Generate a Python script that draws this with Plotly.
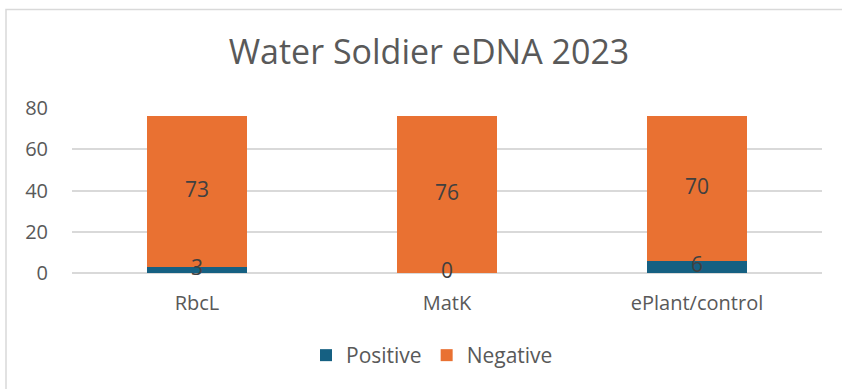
import plotly.graph_objects as go

categories = ["RbcL", "MatK", "ePlant/control"]
positive = [3, 0, 6]
negative = [73, 76, 70]

POS_COLOR = "#156082"
NEG_COLOR = "#E97132"
TEXT = "#595959"
FONT = "Open Sans"

fig = go.Figure()
fig.add_trace(go.Bar(name="Positive", x=categories, y=positive, marker_color=POS_COLOR,
                     marker_line_width=0))
fig.add_trace(go.Bar(name="Negative", x=categories, y=negative, marker_color=NEG_COLOR,
                     marker_line_width=0))

# data labels at centre of each segment
pos_mid = [p / 2 for p in positive]
neg_mid = [p + n / 2 for p, n in zip(positive, negative)]
fig.add_trace(go.Scatter(x=categories + categories, y=pos_mid + neg_mid, mode="text",
                         text=[str(v) for v in positive + negative],
                         textfont=dict(size=21, color="#404040", family=FONT),
                         showlegend=False, hoverinfo="skip", cliponaxis=False))

fig.update_layout(
    width=842, height=389,
    barmode="stack", bargap=0.6,
    margin=dict(l=72, r=20, t=108, b=116),
    paper_bgcolor="white", plot_bgcolor="white",
    font=dict(family=FONT, color=TEXT, size=18),
    title=dict(text="Water Soldier eDNA 2023", x=429 / 842, xanchor="center",
               y=1 - 52 / 389, yanchor="middle",
               font=dict(size=34, color=TEXT, family=FONT)),
    xaxis=dict(showline=False, ticks="", tickfont=dict(size=20, color=TEXT),
               ticklabelstandoff=16),
    yaxis=dict(range=[0, 80], dtick=20, showgrid=True, gridcolor="#D9D9D9", gridwidth=1.5,
               zeroline=True, zerolinecolor="#D9D9D9", zerolinewidth=1.5,
               tickfont=dict(size=20, color=TEXT), ticklabelstandoff=23),
    legend=dict(orientation="h", x=0.48, xanchor="center", y=-0.5, yanchor="middle",
                font=dict(size=21, color=TEXT), traceorder="normal"),
    showlegend=True,
)
fig.add_shape(type="rect", xref="paper", yref="paper",
              x0=(6 - 72) / 750, x1=(860 - 72) / 750,
              y0=-0.9, y1=(273 - 9.5) / 165,
              line=dict(color="#D9D9D9", width=1.5), layer="below")

fig.write_html("out.html")
